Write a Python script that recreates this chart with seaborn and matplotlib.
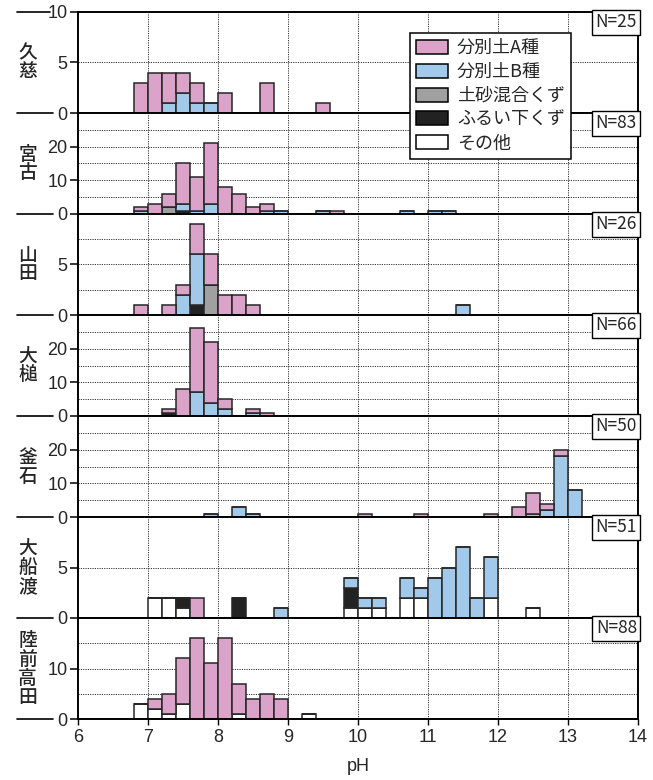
import numpy as np
import pandas as pd
import seaborn as sns
import matplotlib.pyplot as plt
from matplotlib.patches import Patch
from matplotlib.lines import Line2D

# Categories (legend order; stacked so the last one sits at the bottom)
categories = ["分別土A種", "分別土B種", "土砂混合くず", "ふるい下くず", "その他"]
colors = ["#dba3c9", "#a3c9ea", "#a0a0a0", "#222222", "#ffffff"]

sites = ["久\n慈", "宮\n古", "山\n田", "大\n槌", "釜\n石", "大\n船\n渡", "陸\n前\n高\n田"]
totals = [25, 83, 26, 66, 50, 51, 88]
y_max = [10, 30, 10, 30, 30, 10, 20]
y_ticks = [[0, 5, 10], [0, 10, 20], [0, 5], [0, 10, 20], [0, 10, 20], [0, 5], [0, 10]]
y_grid = [[5], [5, 10, 15, 20, 25], [2.5, 5, 7.5], [5, 10, 15, 20, 25],
          [5, 10, 15, 20, 25], [5], [5, 10, 15]]

# Counts per 0.2-wide pH bin, keyed by the left edge of the bin
kuji = {
    "分別土A種": {6.8: 3, 7.0: 4, 7.2: 3, 7.4: 2, 7.6: 2, 8.0: 2, 8.6: 3, 9.4: 1},
    "分別土B種": {7.2: 1, 7.4: 2, 7.6: 1, 7.8: 1},
}
miyako = {
    "分別土A種": {6.8: 1, 7.0: 3, 7.2: 4, 7.4: 12, 7.6: 10, 7.8: 18, 8.0: 8,
               8.2: 6, 8.4: 2, 8.6: 2, 9.6: 1},
    "分別土B種": {6.8: 1, 7.4: 2, 7.6: 1, 7.8: 3, 8.6: 1, 8.8: 1, 9.4: 1,
               10.6: 1, 11.0: 1, 11.2: 1},
    "土砂混合くず": {7.2: 2},
    "ふるい下くず": {7.4: 1},
}
yamada = {
    "分別土A種": {6.8: 1, 7.2: 1, 7.4: 1, 7.6: 3, 7.8: 3, 8.0: 2, 8.2: 2, 8.4: 1},
    "分別土B種": {7.4: 2, 7.6: 5, 11.4: 1},
    "土砂混合くず": {7.8: 3},
    "ふるい下くず": {7.6: 1},
}
otsuchi = {
    "分別土A種": {7.2: 1, 7.4: 8, 7.6: 19, 7.8: 18, 8.0: 3, 8.4: 1, 8.6: 1},
    "分別土B種": {7.6: 7, 7.8: 4, 8.0: 2, 8.4: 1},
    "ふるい下くず": {7.2: 1},
}
kamaishi = {
    "分別土A種": {10.0: 1, 10.8: 1, 11.8: 1, 12.2: 3, 12.4: 6, 12.6: 2, 12.8: 2},
    "分別土B種": {7.8: 1, 8.2: 3, 8.4: 1, 12.4: 1, 12.6: 2, 12.8: 18, 13.0: 8},
}
ofunato = {
    "分別土A種": {7.6: 2},
    "分別土B種": {8.8: 1, 9.8: 1, 10.0: 1, 10.2: 1, 10.6: 2, 10.8: 1, 11.0: 4,
               11.2: 5, 11.4: 7, 11.6: 2, 11.8: 4},
    "ふるい下くず": {7.4: 1, 8.2: 2, 9.8: 2},
    "その他": {7.0: 2, 7.2: 2, 7.4: 1, 9.8: 1, 10.0: 1, 10.2: 1, 10.6: 2,
            10.8: 2, 11.8: 2, 12.4: 1},
}
rikuzentakata = {
    "分別土A種": {7.0: 2, 7.2: 4, 7.4: 9, 7.6: 16, 7.8: 11, 8.0: 16, 8.2: 6,
               8.4: 4, 8.6: 5, 8.8: 4},
    "その他": {6.8: 3, 7.0: 2, 7.2: 1, 7.4: 3, 8.2: 1, 9.2: 1},
}
site_counts = [kuji, miyako, yamada, otsuchi, kamaishi, ofunato, rikuzentakata]

pH_range = (6.0, 14.0)
bin_width = 0.2
pH_ticks = np.arange(6, 15)


def long_table(counts):
    rows = []
    for cat in categories:
        rows.append({"pH": 6.1, "n": 0, "cat": cat})
        for left_edge, n in counts.get(cat, {}).items():
            rows.append({"pH": left_edge + 0.1, "n": n, "cat": cat})
    return pd.DataFrame(rows)


sns.set_theme(style="white")
plt.rcParams["font.family"] = ["Liberation Sans", "Noto Sans CJK JP", "DejaVu Sans"]
jp_font = ["Noto Sans CJK JP", "DejaVu Sans"]

W, H = 653, 780
fig, axes = plt.subplots(7, 1, figsize=(W / 100, H / 100), dpi=100, sharex=True)
left, right, top, bottom = 78 / W, 638 / W, 1 - 12 / H, 1 - 719 / H
fig.subplots_adjust(left=left, right=right, top=top, bottom=bottom, hspace=0)

palette = dict(zip(categories, colors))
for i, ax in enumerate(axes):
    df = long_table(site_counts[i])
    sns.histplot(data=df, x="pH", weights="n", hue="cat", hue_order=categories,
                 multiple="stack", binwidth=bin_width, binrange=pH_range,
                 palette=palette, alpha=1, edgecolor="#262626", linewidth=1.1,
                 legend=False, ax=ax, zorder=3)
    ax.set_xlim(6, 14)
    ax.set_ylim(0, y_max[i])
    ax.set_yticks(y_ticks[i])
    ax.set_ylabel("")
    ax.set_xlabel("")
    for g in y_grid[i]:
        ax.axhline(g, color="#333333", lw=0.7, ls=(0, (1.2, 1.2)), zorder=1)
    for x in range(7, 14):
        ax.axvline(x, color="#333333", lw=0.7, ls=(0, (1.2, 1.2)), zorder=1)
    for s in ax.spines.values():
        s.set_color("black")
        s.set_linewidth(1.4)
        s.set_zorder(5)
    ax.tick_params(axis="y", direction="out", length=6, width=1.1, color="black",
                   labelsize=13, pad=1.5, left=True)
    ax.tick_params(axis="x", direction="out", length=4, width=1, color="black",
                   labelsize=13, bottom=(i == 6))
    ax.text(0.998, 0.988, f"N={totals[i]}", transform=ax.transAxes, ha="right",
            va="top", fontsize=12.5, family=jp_font, zorder=6,
            bbox=dict(boxstyle="square,pad=0.2", fc="white", ec="black", lw=1))
    # vertical site name in the left margin
    ax.text(-0.09, 0.5, sites[i], transform=ax.transAxes, ha="center",
            va="center", fontsize=13.5, family=jp_font, weight="medium",
            linespacing=1.0)

axes[-1].set_xticks(pH_ticks)
axes[-1].set_xlabel("pH", fontsize=13, labelpad=8)

# separator lines in the left margin at every panel boundary
panel_h = (top - bottom) / 7
for k in range(8):
    yb = bottom + k * panel_h
    x_end = 50 / W if k == 7 else 53 / W
    fig.add_artist(Line2D([17 / W, x_end], [yb, yb], color="black", lw=1.2,
                          transform=fig.transFigure))

handles = [Patch(facecolor=c, edgecolor="black", linewidth=1.1, label=cat)
           for cat, c in zip(categories, colors)]
leg = fig.legend(handles=handles, loc="upper left",
                 bbox_to_anchor=(410 / W, 1 - 33 / H), frameon=True,
                 fancybox=False, framealpha=1, edgecolor="black",
                 prop={"family": jp_font, "size": 13}, borderaxespad=0,
                 handlelength=1.75, handleheight=0.8, labelspacing=0.32,
                 handletextpad=0.5, borderpad=0.35)
leg.get_frame().set_linewidth(1.1)

fig.savefig("out.png", dpi=100)
